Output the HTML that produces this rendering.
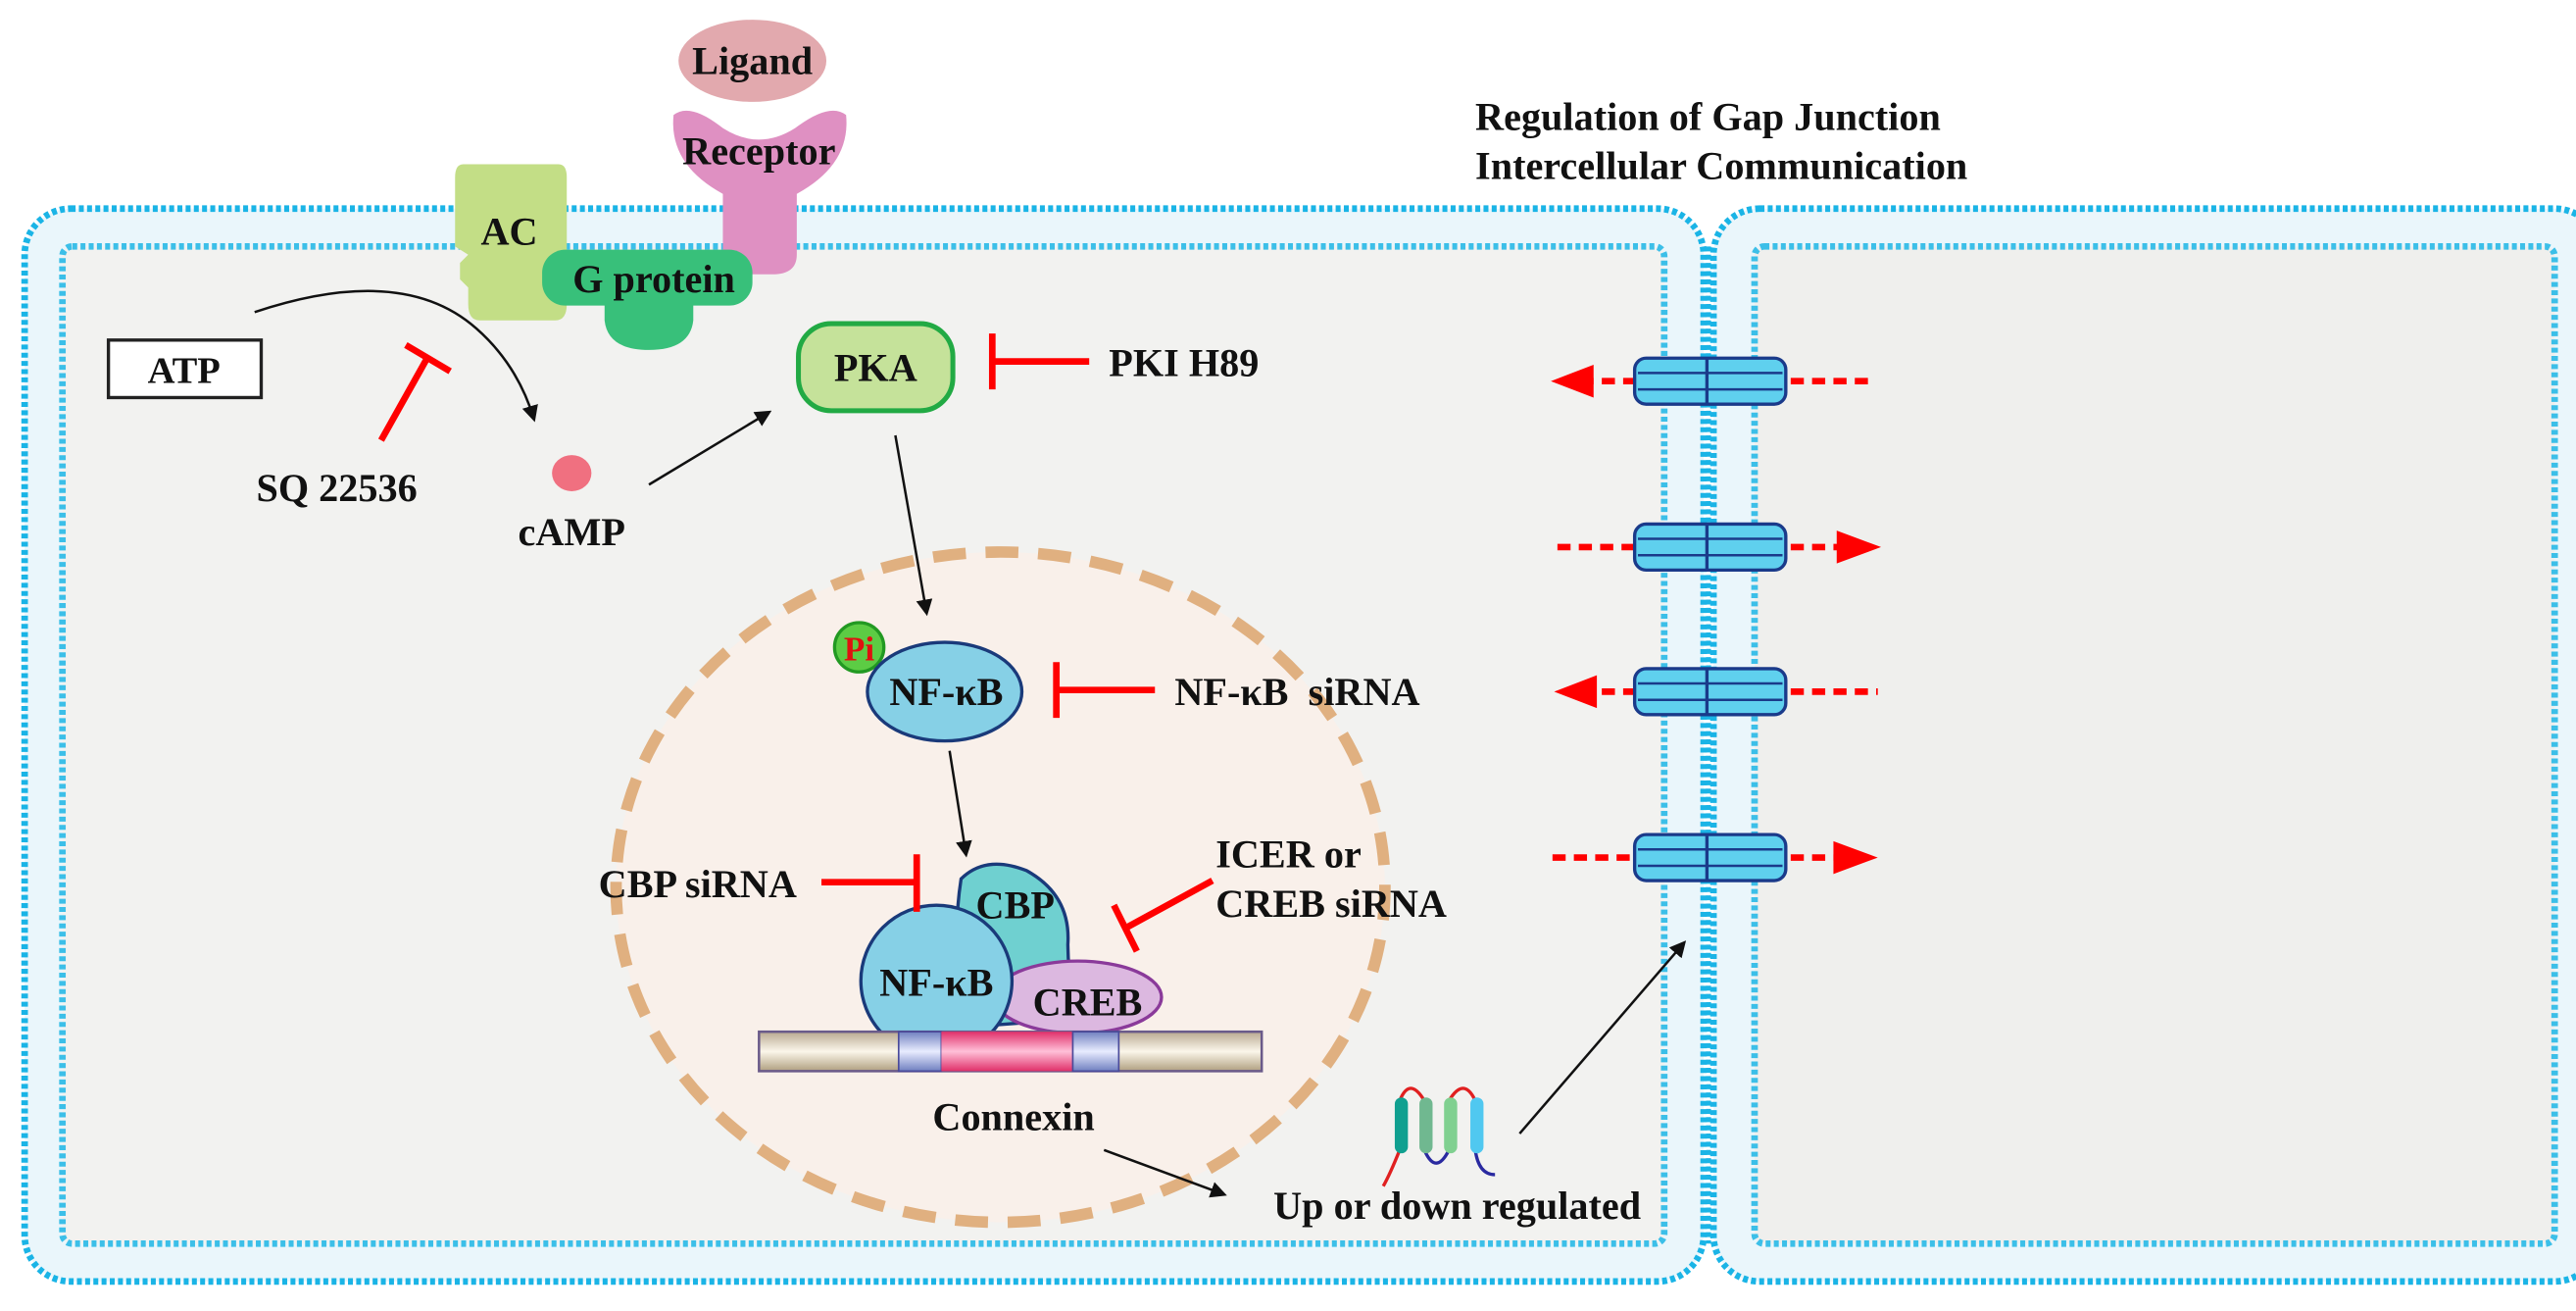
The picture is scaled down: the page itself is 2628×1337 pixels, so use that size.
<!DOCTYPE html>
<html><head><meta charset="utf-8"><style>
html,body{margin:0;padding:0;background:#fff}
svg{display:block}
text{font-family:"Liberation Serif",serif;font-weight:bold;fill:#111}
</style></head><body>
<svg width="2628" height="1337" viewBox="0 0 1568 798" preserveAspectRatio="none" xmlns="http://www.w3.org/2000/svg">
<defs>
<marker id="ah" markerWidth="10" markerHeight="10" refX="8" refY="5" orient="auto" markerUnits="userSpaceOnUse"><path d="M0,0 L10,5 L0,10 z" fill="#111"/></marker>
<linearGradient id="dna" x1="0" y1="0" x2="0" y2="1"><stop offset="0" stop-color="#b8a890"/><stop offset="0.5" stop-color="#fbf6ea"/><stop offset="1" stop-color="#b0a080"/></linearGradient>
<linearGradient id="dnap" x1="0" y1="0" x2="0" y2="1"><stop offset="0" stop-color="#e0306a"/><stop offset="0.5" stop-color="#ffc0d8"/><stop offset="1" stop-color="#e0306a"/></linearGradient>
<linearGradient id="dnab" x1="0" y1="0" x2="0" y2="1"><stop offset="0" stop-color="#7080c0"/><stop offset="0.5" stop-color="#e8ecff"/><stop offset="1" stop-color="#7080c0"/></linearGradient>
<g id="chan">
<rect x="-46" y="-14" width="92" height="28" rx="7" fill="#5fd0ee" stroke="#1a3a8a" stroke-width="2"/>
<line x1="-2" y1="-14" x2="-2" y2="14" stroke="#1a3a8a" stroke-width="2"/>
<line x1="-44" y1="-5" x2="44" y2="-5" stroke="#1a3a8a" stroke-width="1.5"/>
<line x1="-44" y1="5" x2="44" y2="5" stroke="#1a3a8a" stroke-width="1.5"/>
</g>
</defs>
<!-- membranes -->
<rect x="15" y="127" width="1022" height="653" rx="28" fill="#eaf6fb" stroke="#1ab4e6" stroke-width="4" stroke-dasharray="3 2"/>
<rect x="1043" y="127" width="540" height="653" rx="28" fill="#eaf6fb" stroke="#1ab4e6" stroke-width="4" stroke-dasharray="3 2"/>
<rect x="38" y="150" width="975" height="607" rx="6" fill="#f2f2f0" stroke="#3cbfe8" stroke-width="4" stroke-dasharray="3 2"/>
<rect x="1068" y="150" width="487" height="607" rx="6" fill="#efefed" stroke="#3cbfe8" stroke-width="4" stroke-dasharray="3 2"/>
<line x1="1040" y1="150" x2="1040" y2="757" stroke="#1ab4e6" stroke-width="3" stroke-dasharray="3 2"/>

<!-- title -->
<text x="898" y="79" font-size="24">Regulation of Gap Junction</text>
<text x="898" y="109" font-size="24">Intercellular Communication</text>

<!-- Ligand / receptor -->
<ellipse cx="458" cy="37" rx="45" ry="25" fill="#e2a9ae"/>
<text x="458" y="45" font-size="24" text-anchor="middle">Ligand</text>
<path d="M410,70 Q420,62 440,78 Q462,92 484,78 Q505,62 515,70 Q518,100 485,118 L485,155 Q485,167 470,167 L455,167 Q440,167 440,155 L440,118 Q407,100 410,70 z" fill="#df90c2"/>
<text x="462" y="100" font-size="24" text-anchor="middle">Receptor</text>
<!-- AC -->
<path d="M282,100 L340,100 Q345,100 345,108 L345,185 Q345,195 338,195 L292,195 Q285,195 285,185 L285,175 L280,170 L280,160 L285,155 L277,150 L277,108 Q277,100 282,100 z" fill="#c3de86"/>
<text x="310" y="149" font-size="24" text-anchor="middle">AC</text>
<!-- G protein -->
<rect x="330" y="152" width="128" height="34" rx="14" fill="#38c07a"/>
<path d="M368,182 L422,182 L422,195 Q420,213 395,213 Q370,213 368,195 z" fill="#38c07a"/>
<text x="398" y="178" font-size="24" text-anchor="middle">G protein</text>

<!-- ATP -->
<rect x="66" y="207" width="93" height="35" fill="#fff" stroke="#222" stroke-width="2"/>
<text x="112" y="233" font-size="23" text-anchor="middle">ATP</text>
<path d="M155,190 Q245,160 290,200 Q315,222 325,255" fill="none" stroke="#111" stroke-width="1.5" marker-end="url(#ah)"/>
<line x1="232" y1="268" x2="260" y2="218" stroke="#f00" stroke-width="4"/>
<line x1="247" y1="210" x2="274" y2="226" stroke="#f00" stroke-width="4"/>
<text x="205" y="305" font-size="24" text-anchor="middle">SQ 22536</text>
<ellipse cx="348" cy="288" rx="12" ry="11" fill="#f07080"/>
<text x="348" y="332" font-size="24" text-anchor="middle">cAMP</text>
<line x1="395" y1="295" x2="468" y2="251" stroke="#111" stroke-width="1.5" marker-end="url(#ah)"/>

<!-- PKA -->
<rect x="486" y="197" width="94" height="53" rx="20" fill="#c5e29a" stroke="#22aa44" stroke-width="3"/>
<text x="533" y="232" font-size="24" text-anchor="middle">PKA</text>
<line x1="604" y1="203" x2="604" y2="237" stroke="#f00" stroke-width="4"/>
<line x1="604" y1="220" x2="663" y2="220" stroke="#f00" stroke-width="4"/>
<text x="675" y="229" font-size="24">PKI H89</text>

<!-- nucleus -->
<ellipse cx="609" cy="540" rx="234" ry="204" fill="#f9f0ea" stroke="#e0b080" stroke-width="7" stroke-dasharray="20 12"/>
<line x1="545" y1="265" x2="564" y2="373" stroke="#111" stroke-width="1.5" marker-end="url(#ah)"/>
<circle cx="523" cy="394" r="15" fill="#5ccc44" stroke="#229922" stroke-width="2"/>
<text x="523" y="402" font-size="21" text-anchor="middle" style="fill:#e01010">Pi</text>
<ellipse cx="575" cy="421" rx="47" ry="30" fill="#86d0e6" stroke="#1a3a7a" stroke-width="2"/>
<text x="576" y="429" font-size="24" text-anchor="middle">NF-κB</text>
<line x1="643" y1="403" x2="643" y2="437" stroke="#f00" stroke-width="4"/>
<line x1="643" y1="420" x2="703" y2="420" stroke="#f00" stroke-width="4"/>
<text x="715" y="429" font-size="24" xml:space="preserve">NF-κB  siRNA</text>
<line x1="578" y1="457" x2="588" y2="520" stroke="#111" stroke-width="1.5" marker-end="url(#ah)"/>

<!-- CBP complex -->
<path d="M585,535 Q600,520 625,530 Q652,545 650,575 Q650,598 658,620 L590,625 Q578,580 585,535 z" fill="#6fd0d0" stroke="#1a3a7a" stroke-width="2"/>
<text x="618" y="559" font-size="24" text-anchor="middle">CBP</text>
<ellipse cx="656" cy="607" rx="51" ry="22" fill="#dcb8e0" stroke="#8a3a9a" stroke-width="2"/>
<circle cx="570" cy="597" r="46" fill="#86d0e6" stroke="#1a3a7a" stroke-width="2"/>
<text x="570" y="606" font-size="24" text-anchor="middle">NF-κB</text>
<text x="662" y="618" font-size="24" text-anchor="middle">CREB</text>
<rect x="462" y="628" width="306" height="24" fill="url(#dna)" stroke="#6a5a8a" stroke-width="1.5"/>
<rect x="547" y="628" width="26" height="24" fill="url(#dnab)" stroke="#4a4a9a" stroke-width="1"/>
<rect x="573" y="628" width="80" height="24" fill="url(#dnap)"/>
<rect x="653" y="628" width="28" height="24" fill="url(#dnab)" stroke="#4a4a9a" stroke-width="1"/>
<text x="485" y="546" font-size="24" text-anchor="end">CBP siRNA</text>
<line x1="500" y1="537" x2="558" y2="537" stroke="#f00" stroke-width="4"/>
<line x1="558" y1="520" x2="558" y2="555" stroke="#f00" stroke-width="4"/>
<text x="740" y="528" font-size="24">ICER or</text>
<text x="740" y="558" font-size="24">CREB siRNA</text>
<line x1="738" y1="536" x2="685" y2="565" stroke="#f00" stroke-width="4"/>
<line x1="678" y1="551" x2="692" y2="579" stroke="#f00" stroke-width="4"/>
<text x="617" y="688" font-size="24" text-anchor="middle">Connexin</text>
<line x1="672" y1="700" x2="745" y2="727" stroke="#111" stroke-width="1.5" marker-end="url(#ah)"/>
<text x="887" y="742" font-size="24" text-anchor="middle">Up or down regulated</text>

<!-- connexin icon -->
<path d="M852,670 Q858,655 867,670 M882,670 Q891,655 898,670 M852,700 Q846,715 842,722" fill="none" stroke="#e02020" stroke-width="2"/>
<path d="M867,700 Q874,716 882,700 M898,700 Q900,715 910,715" fill="none" stroke="#2a2aa0" stroke-width="2"/>
<rect x="849" y="668" width="8" height="34" rx="4" fill="#10a090"/>
<rect x="864" y="668" width="8" height="34" rx="4" fill="#70b890"/>
<rect x="879" y="668" width="8" height="34" rx="4" fill="#80d090"/>
<rect x="895" y="668" width="8" height="34" rx="4" fill="#50c8f0"/>
<line x1="925" y1="690" x2="1025" y2="574" stroke="#111" stroke-width="1.5" marker-end="url(#ah)"/>

<!-- channels -->
<g stroke="#f00" stroke-width="4" stroke-dasharray="8 5" fill="none">
<line x1="962" y1="232" x2="995" y2="232"/><line x1="1090" y1="232" x2="1140" y2="232"/>
<line x1="948" y1="333" x2="995" y2="333"/><line x1="1090" y1="333" x2="1120" y2="333"/>
<line x1="962" y1="421" x2="995" y2="421"/><line x1="1090" y1="421" x2="1143" y2="421"/>
<line x1="945" y1="522" x2="995" y2="522"/><line x1="1090" y1="522" x2="1118" y2="522"/>
</g>
<g fill="#f00">
<path d="M944,232 L970,222 L970,242 z"/>
<path d="M1145,333 L1118,323 L1118,343 z"/>
<path d="M946,421 L972,411 L972,431 z"/>
<path d="M1143,522 L1116,512 L1116,532 z"/>
</g>
<use href="#chan" x="1041" y="232"/>
<use href="#chan" x="1041" y="333"/>
<use href="#chan" x="1041" y="421"/>
<use href="#chan" x="1041" y="522"/>
</svg>
</body></html>
